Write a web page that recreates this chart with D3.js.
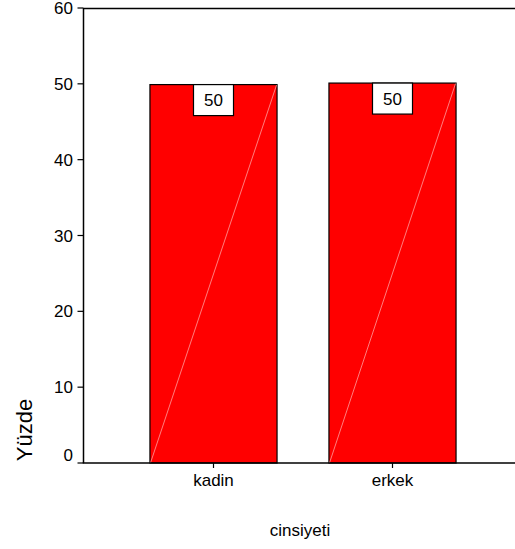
<!DOCTYPE html>
<html><head><meta charset="utf-8">
<script src="https://cdn.jsdelivr.net/npm/d3@7"></script>
<style>body{margin:0;background:#fff}svg{display:block}text{font-family:Arial,"Liberation Sans",sans-serif}</style>
</head><body><svg id="c" width="515" height="549"></svg>
<script>
const categories = ["kadin", "erkek"];
const values = [49.9, 50.1];
const valueLabels = ["50", "50"];
const yTicks = [0, 10, 20, 30, 40, 50, 60];
const yTitle = "Yüzde";
const xTitle = "cinsiyeti";

const svg = d3.select("#c");
const L = 83.5, R = 515, T = 8, B = 463;
const y = d3.scaleLinear().domain([0, 60]).range([B, T]);
const x = d3.scaleBand().domain(categories).range([124, 482]).padding(0);
const bw = x.bandwidth() * 0.71;

svg.append("line").attr("x1", L).attr("x2", R).attr("y1", T + 0.5).attr("y2", T + 0.5)
  .attr("stroke", "#000").attr("stroke-width", 1.5);

const g = svg.append("g");
categories.forEach((c, i) => {
  const cx = x(c) + x.bandwidth() / 2;
  const x0 = cx - bw / 2, x1 = cx + bw / 2;
  const yt = y(values[i]);
  g.append("rect").attr("x", x0).attr("y", yt).attr("width", bw).attr("height", B - yt)
    .attr("fill", "#ff0000").attr("stroke", "#000").attr("stroke-width", 1.2);
  const bwid = 40, bh = 31;
  g.append("rect").attr("x", cx - bwid / 2).attr("y", yt).attr("width", bwid).attr("height", bh)
    .attr("fill", "#fff").attr("stroke", "#000").attr("stroke-width", 1.2);
  g.append("line").attr("x1", x0 + 0.5).attr("y1", B).attr("x2", x1 - 0.5).attr("y2", yt + 0.5)
    .attr("stroke", "#ffb4b4").attr("stroke-width", 0.7);
  g.append("text").attr("x", cx).attr("y", yt + bh / 2 + 6).attr("text-anchor", "middle")
    .attr("font-size", 17).text(valueLabels[i]);
});

svg.append("line").attr("x1", L).attr("x2", L).attr("y1", T).attr("y2", B)
  .attr("stroke", "#000").attr("stroke-width", 1.5);
yTicks.forEach(t => {
  svg.append("line").attr("x1", L - 6).attr("x2", L).attr("y1", y(t)).attr("y2", y(t))
    .attr("stroke", "#000").attr("stroke-width", 1.2);
  svg.append("text").attr("x", 73).attr("y", y(t) + 6 - (t === 0 ? 8 : 0))
    .attr("text-anchor", "end").attr("font-size", 17).text(t);
});

svg.append("line").attr("x1", L - 0.75).attr("x2", R).attr("y1", B).attr("y2", B)
  .attr("stroke", "#000").attr("stroke-width", 1.5);
categories.forEach(c => {
  const cx = x(c) + x.bandwidth() / 2;
  svg.append("line").attr("x1", cx).attr("x2", cx).attr("y1", B).attr("y2", B + 5)
    .attr("stroke", "#000").attr("stroke-width", 1.2);
  svg.append("text").attr("x", cx).attr("y", 486).attr("text-anchor", "middle")
    .attr("font-size", 17).text(c);
});

svg.append("text").attr("x", 300).attr("y", 536).attr("text-anchor", "middle")
  .attr("font-size", 17).text(xTitle);
svg.append("text").attr("transform", "translate(32,430) rotate(-90)")
  .attr("text-anchor", "middle").attr("font-size", 22).text(yTitle);
</script></body></html>
